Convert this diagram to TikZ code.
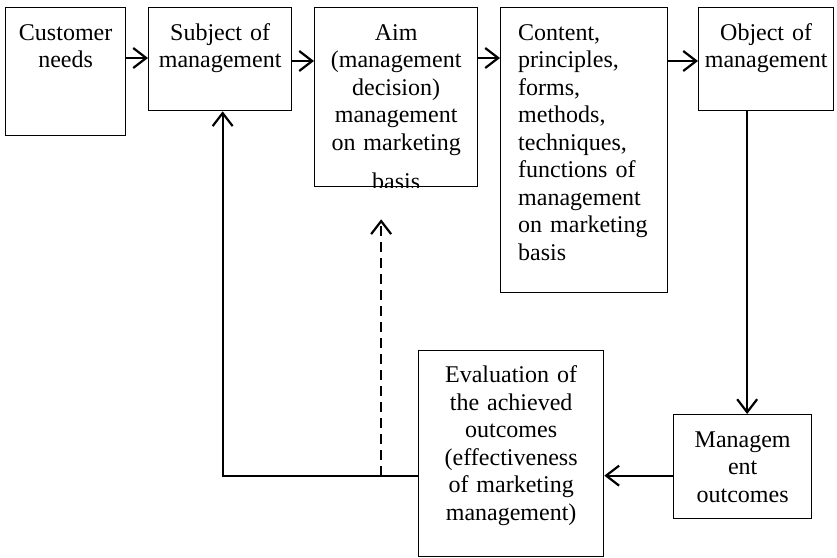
\documentclass[tikz,border=0pt]{standalone}
\usepackage{fontspec}
\setmainfont{Liberation Serif}
\usetikzlibrary{arrows.meta}

\tikzset{
	box/.style={draw, line width=1.3pt, inner sep=0pt, anchor=north west},
	txt/.style={inner sep=0pt, anchor=base, align=center, text width=#1,
		font=\fontsize{24}{27.5}\selectfont},
	arr/.style={line width=2.2pt, -{Straight Barb[length=13pt,width=20pt,line width=2.2pt]}}
}

\begin{document}
\begin{tikzpicture}[x=1pt,y=-1pt]
	\useasboundingbox (0,0) rectangle (837,557);
	% Boxes
	\node[box, minimum width=120pt, minimum height=128pt] (cust) at (5,7) {};
	\node[box, minimum width=143pt, minimum height=103pt] (subj) at (148,7) {};
	\node[box, minimum width=163pt, minimum height=179pt] (aim) at (314,7) {};
	\node[box, minimum width=167pt, minimum height=285pt] (cont) at (500,7) {};
	\node[box, minimum width=135pt, minimum height=103pt] (obj) at (698,7) {};
	\node[box, minimum width=138pt, minimum height=104pt] (mout) at (673,414) {};
	\node[box, minimum width=185pt, minimum height=206pt] (eval) at (418,350) {};

	% Labels
	\node[txt=118pt] (custtxt) at ([yshift=-33pt]cust.north) {Customer\\needs};
	\node[txt=140pt] (subjtxt) at ([yshift=-33pt]subj.north) {Subject of\\management};
	\begin{scope}
		\clip (aim.south west) rectangle (aim.north east);
		\node[txt=160pt] (aimtxt) at ([yshift=-33pt]aim.north)
			{Aim\\(management\\decision)\\management\\on marketing\\[12pt]basis};
	\end{scope}
	\node[txt=145pt, align=left, anchor=base west] (conttxt) at ([xshift=18pt,yshift=-33pt]cont.north west)
		{Content,\\principles,\\forms,\\methods,\\techniques,\\functions of\\management\\on marketing\\basis};
	\node[txt=134pt] (objtxt) at ([yshift=-33pt]obj.north) {Object of\\management};
	\node[txt=136pt] (mouttxt) at ([yshift=-33pt]mout.north) {Managem\\ent\\outcomes};
	\node[txt=183pt] (evaltxt) at ([yshift=-32.7pt]eval.north)
		{Evaluation of\\the achieved\\outcomes\\(effectiveness\\of marketing\\management)};

	% Arrows
	\draw[arr] ([yshift=-51pt]cust.north east) -- ([yshift=-51pt]subj.north west);
	\draw[arr] ([yshift=-54pt]subj.north east) -- ([yshift=-54pt]aim.north west);
	\draw[arr] ([yshift=-51pt]aim.north east) -- ([yshift=-51pt]cont.north west);
	\draw[arr] ([yshift=-54pt]cont.north east) -- ([yshift=-54pt]obj.north west);
	\draw[arr] ([xshift=-19pt]obj.south) -- ([xshift=-19pt]obj.south |- mout.north);
	\draw[arr] ([yshift=-9pt]mout.west) -- ([yshift=-9pt]mout.west -| eval.east);
	\coordinate (fb) at ([yshift=-22pt]eval.west);
	\draw[arr] (fb) -| ([xshift=2.5pt]subj.south);
	\draw[arr, dashed, dash pattern=on 10pt off 6pt] ([xshift=-15pt]aim.south |- fb) -- ([xshift=-15pt,yshift=-32pt]aim.south);
\end{tikzpicture}
\end{document}
